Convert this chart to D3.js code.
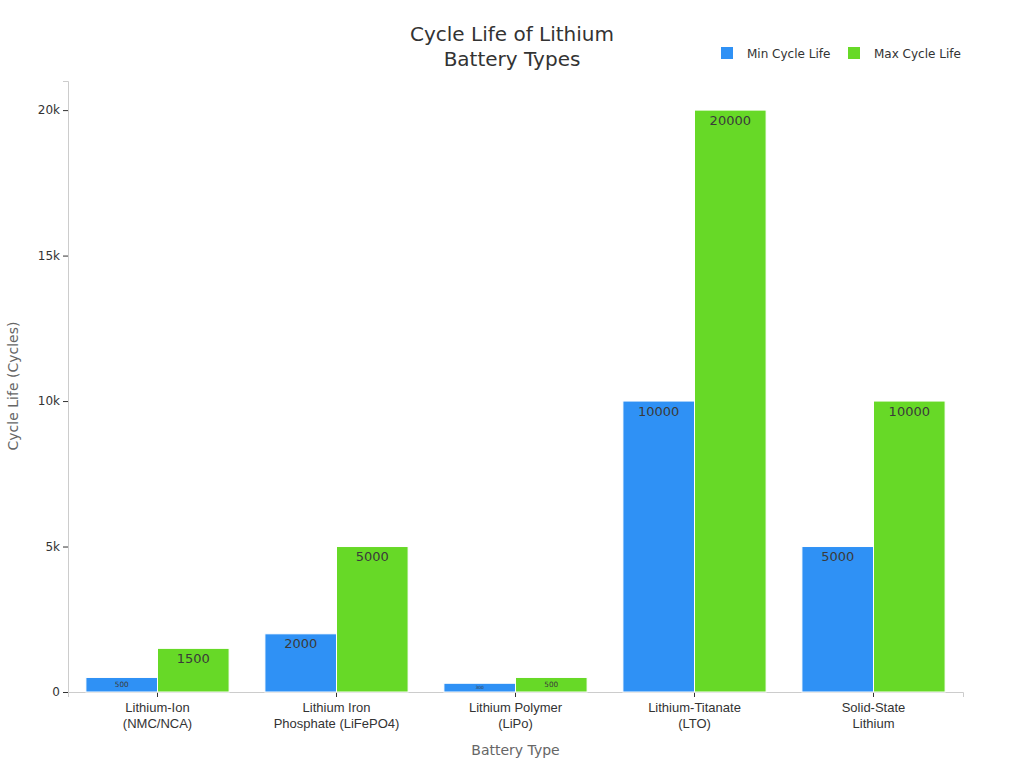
<!DOCTYPE html>
<html>
<head>
<meta charset="utf-8">
<script src="https://cdn.jsdelivr.net/npm/d3@7"></script>
<style>
  body { margin: 0; background: #fff; }
  svg { font-family: "DejaVu Sans", sans-serif; }
</style>
</head>
<body>
<div id="chart"></div>
<script>
// chart data
var categories = [
    ["Lithium-Ion", "(NMC/NCA)"],
    ["Lithium Iron", "Phosphate (LiFePO4)"],
    ["Lithium Polymer", "(LiPo)"],
    ["Lithium-Titanate", "(LTO)"],
    ["Solid-State", "Lithium"]
];
var minCycles = [500, 2000, 300, 10000, 5000];
var maxCycles = [1500, 5000, 500, 20000, 10000];
var seriesNames = ["Min Cycle Life", "Max Cycle Life"];
var yTicks = [0, 5000, 10000, 15000, 20000];

var colors = ["#2f91f5", "#67d927"];

var width = 1024, height = 768;
var margin = { top: 80, right: 61, bottom: 76, left: 68 };

var svg = d3.select("#chart").append("svg")
    .attr("width", width)
    .attr("height", height);

var x0 = d3.scaleBand()
    .domain(d3.range(categories.length))
    .range([margin.left, width - margin.right])
    .paddingInner(0.2)
    .paddingOuter(0.1);

var x1 = d3.scaleBand()
    .domain([0, 1])
    .range([0, x0.bandwidth()]);

var y = d3.scaleLinear()
    .domain([0, 21000])
    .range([height - margin.bottom, margin.top + 1]);

// axes
var xAxis = svg.append("g")
    .attr("transform", "translate(0," + (height - margin.bottom) + ")")
    .call(d3.axisBottom(x0).tickSize(5).tickFormat(""));
xAxis.select(".domain").attr("stroke", "#ccc");
xAxis.selectAll(".tick line").attr("stroke", "#333");

xAxis.selectAll(".tick").each(function (d) {
    var t = d3.select(this).append("text")
        .attr("fill", "#333")
        .attr("font-size", 13)
        .attr("text-anchor", "middle");
    categories[d].forEach(function (line, i) {
        t.append("tspan").attr("x", 0).attr("y", 20 + i * 16).text(line);
    });
});

var yAxis = svg.append("g")
    .attr("transform", "translate(" + margin.left + ",0)")
    .call(d3.axisLeft(y).tickValues(yTicks).tickSize(5)
        .tickFormat(function (d) { return d === 0 ? "0" : (d / 1000) + "k"; }));
yAxis.select(".domain").attr("stroke", "#ccc");
yAxis.selectAll(".tick line").attr("stroke", "#333");
yAxis.selectAll(".tick text")
    .attr("fill", "#333")
    .attr("font-size", 12)
    .attr("font-family", "DejaVu Sans, sans-serif");

// bars
var groups = svg.append("g").selectAll("g")
    .data(categories.map(function (c, i) { return [minCycles[i], maxCycles[i]]; }))
    .enter().append("g")
    .attr("transform", function (d, i) { return "translate(" + x0(i) + ",0)"; });

groups.selectAll("rect")
    .data(function (d) { return d; })
    .enter().append("rect")
    .attr("x", function (d, j) { return x1(j); })
    .attr("y", function (d) { return y(d); })
    .attr("width", x1.bandwidth())
    .attr("height", function (d) { return y(0) - y(d); })
    .attr("fill", function (d, j) { return colors[j]; })
    .attr("stroke", "#fff")
    .attr("stroke-width", 1);

groups.selectAll("text")
    .data(function (d) { return d; })
    .enter().append("text")
    .attr("x", function (d, j) { return x1(j) + x1.bandwidth() / 2; })
    .attr("y", function (d) {
        var h = y(0) - y(d);
        return y(d) + Math.min(11, h / 2);
    })
    .attr("dominant-baseline", "middle")
    .attr("text-anchor", "middle")
    .attr("fill", "#3a3a3a")
    .attr("font-size", function (d) {
        var h = y(0) - y(d);
        return Math.min(13, h / 2);
    })
    .text(function (d) { return d; });

// title
svg.append("text")
    .attr("x", width / 2)
    .attr("text-anchor", "middle")
    .attr("fill", "#333")
    .attr("font-size", 20)
    .selectAll("tspan")
    .data(["Cycle Life of Lithium", "Battery Types"])
    .enter().append("tspan")
    .attr("x", width / 2)
    .attr("y", function (d, i) { return 41 + i * 25; })
    .text(function (d) { return d; });

// axis titles
svg.append("text")
    .attr("x", (margin.left + width - margin.right) / 2)
    .attr("y", 755)
    .attr("text-anchor", "middle")
    .attr("fill", "#666")
    .attr("font-size", 14)
    .text("Battery Type");

svg.append("text")
    .attr("transform", "translate(18," + ((margin.top + height - margin.bottom) / 2) + ") rotate(-90)")
    .attr("text-anchor", "middle")
    .attr("fill", "#666")
    .attr("font-size", 14)
    .text("Cycle Life (Cycles)");

// legend
var legend = svg.append("g").selectAll("g")
    .data(seriesNames)
    .enter().append("g")
    .attr("transform", function (d, i) { return "translate(" + (721 + i * 127) + ",47)"; });
legend.append("rect")
    .attr("width", 12).attr("height", 12)
    .attr("fill", function (d, i) { return colors[i]; });
legend.append("text")
    .attr("x", 26).attr("y", 11)
    .attr("font-size", 12)
    .attr("fill", "#333")
    .text(function (d) { return d; });
</script>
</body>
</html>
